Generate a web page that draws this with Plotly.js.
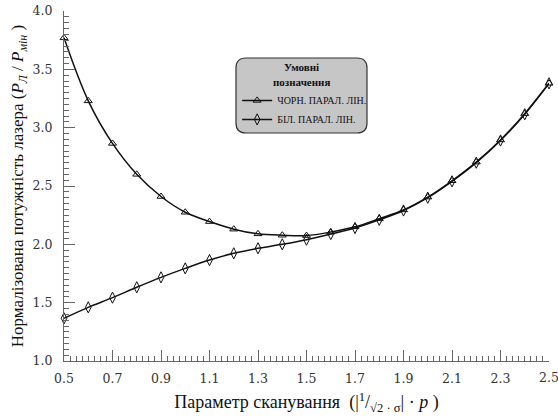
<!DOCTYPE html>
<html>
<head>
<meta charset="utf-8">
<script src="https://cdn.plot.ly/plotly-3.0.1.min.js"></script>
<style>html,body{margin:0;padding:0;background:#fff}#chart{width:558px;height:420px}</style>
</head>
<body>
<div id="chart"></div>
<script>
const scanParam = [0.5,0.6,0.7,0.8,0.9,1.0,1.1,1.2,1.3,1.4,1.5,1.6,1.7,1.8,1.9,2.0,2.1,2.2,2.3,2.4,2.5];
const blackLines = [3.77,3.23,2.865,2.60,2.41,2.275,2.195,2.13,2.09,2.078,2.075,2.105,2.15,2.22,2.295,2.405,2.545,2.705,2.895,3.12,3.38];
const whiteLines = [1.366,1.46,1.543,1.632,1.717,1.794,1.865,1.923,1.966,2.0,2.04,2.088,2.14,2.21,2.29,2.40,2.54,2.70,2.89,3.115,3.38];
const seriesNames = ['ЧОРН. ПАРАЛ. ЛІН.','БІЛ. ПАРАЛ. ЛІН.'];
const xTicks = [0.5,0.7,0.9,1.1,1.3,1.5,1.7,1.9,2.1,2.3,2.5];
const yTicks = [1.0,1.5,2.0,2.5,3.0,3.5,4.0];

const serif = 'Liberation Serif';
const tickSerif = 'DejaVu Serif';
const traces = [
  {x: scanParam, y: blackLines, name: seriesNames[0], mode: 'lines+markers', cliponaxis: false,
   line: {color: '#111', width: 1.5, shape: 'spline', smoothing: 1},
   marker: {symbol: 'triangle-up-open', size: 7, color: '#111', line: {width: 1, color: '#111'}}},
  {x: scanParam, y: whiteLines, name: seriesNames[1], mode: 'lines+markers', cliponaxis: false,
   line: {color: '#111', width: 1.5, shape: 'spline', smoothing: 1},
   marker: {symbol: 'diamond-tall-open', size: 8, color: '#111', line: {width: 1, color: '#111'}}}
];

const bx0 = 0.3546, bx1 = 0.6247, byT = 0.8657, byB = 0.6514, rx = 0.0206, ry = 0.0286;
const boxPath = `M ${bx0+rx},${byT} L ${bx1-rx},${byT} Q ${bx1},${byT} ${bx1},${byT-ry} L ${bx1},${byB+ry} Q ${bx1},${byB} ${bx1-rx},${byB} L ${bx0+rx},${byB} Q ${bx0},${byB} ${bx0},${byB+ry} L ${bx0},${byT-ry} Q ${bx0},${byT} ${bx0+rx},${byT} Z`;

const layout = {
  width: 558, height: 420,
  font: {family: serif, color: '#111'},
  margin: {l: 64, r: 9, t: 11, b: 59},
  paper_bgcolor: '#fff', plot_bgcolor: '#fff',
  showlegend: true,
  legend: {x: 0.357, y: 0.786, xanchor: 'left', yanchor: 'top', bgcolor: 'rgba(0,0,0,0)',
           font: {family: serif, size: 10, color: '#111'}, itemwidth: 30, tracegroupgap: 0},
  xaxis: {range: [0.5, 2.5], tickvals: xTicks, ticktext: xTicks.map(v => v.toFixed(1)),
          ticks: 'inside', ticklen: 11, tickcolor: '#666', tickwidth: 1,
          minor: {dtick: 0.025, tick0: 0.5, ticks: 'inside', ticklen: 5, tickcolor: '#666'},
          showline: true, linecolor: '#666', linewidth: 1, showgrid: false, zeroline: false,
          tickfont: {family: tickSerif, size: 12.5, color: '#333'}, ticklabelstandoff: 6,
          title: {text: 'Параметр сканування  (|<sup>1</sup>/<sub>√2 · σ</sub>| · <i>p</i> )',
                  font: {family: serif, size: 18, color: '#111'}, standoff: 10}},
  yaxis: {range: [1.0, 4.0], tickvals: yTicks, ticktext: yTicks.map(v => v.toFixed(1)),
          ticks: 'inside', ticklen: 11, tickcolor: '#666', tickwidth: 1,
          minor: {dtick: 0.05, tick0: 1.0, ticks: 'inside', ticklen: 5, tickcolor: '#666'},
          showline: true, linecolor: '#666', linewidth: 1, showgrid: false, zeroline: false,
          tickfont: {family: tickSerif, size: 12.5, color: '#333'}, ticklabelstandoff: 8,
          title: {text: 'Нормалізована потужність лазера (<i>P</i><sub><i>Л</i></sub> / <i>P</i><sub><i>мін</i></sub> )',
                  font: {family: serif, size: 17, color: '#111'}, standoff: 4}},
  shapes: [{type: 'path', xref: 'paper', yref: 'paper', path: boxPath,
            fillcolor: '#c6c6c6', line: {color: '#333', width: 1.2}, layer: 'above'}],
  annotations: [{xref: 'paper', yref: 'paper', x: (bx0+bx1)/2, y: 0.839, xanchor: 'center', yanchor: 'middle',
                 text: '<b>Умовні</b>', showarrow: false, borderpad: 0, font: {family: serif, size: 11, color: '#111'}},
                {xref: 'paper', yref: 'paper', x: (bx0+bx1)/2, y: 0.796, xanchor: 'center', yanchor: 'middle',
                 text: '<b>позначення</b>', showarrow: false, borderpad: 0, font: {family: serif, size: 11, color: '#111'}},
                {xref: 'paper', yref: 'paper', x: 1, y: -0.02, xanchor: 'center', yanchor: 'top',
                 text: '2.5', showarrow: false, font: {family: tickSerif, size: 12.5, color: '#333'}}]
};

Plotly.newPlot('chart', traces, layout, {displayModeBar: false, staticPlot: true});
</script>
</body>
</html>
